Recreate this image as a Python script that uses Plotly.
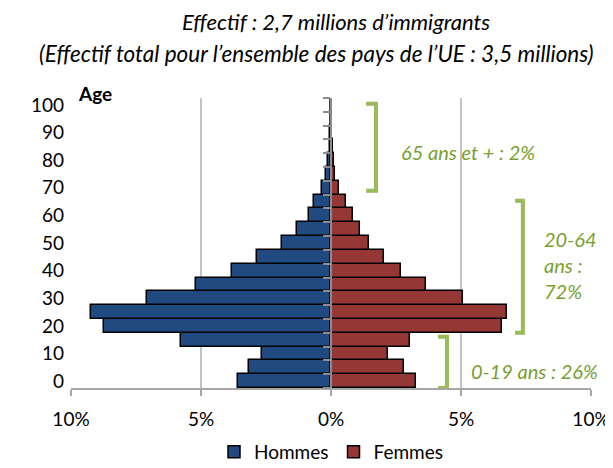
import plotly.graph_objects as go

# Groupes d'âge quinquennaux (0-4, 5-9, ..., 100+), positionnés au début de classe
ages = list(range(0, 105, 5))

# Part de chaque groupe dans l'effectif total (%)
hommes = [3.57, 3.14, 2.67, 5.78, 8.73, 9.24, 7.08, 5.19, 3.82, 2.83, 1.90,
          1.30, 0.83, 0.64, 0.33, 0.21, 0.10, 0.05, 0.02, 0.01, 0.0]
femmes = [3.25, 2.81, 2.18, 3.05, 6.58, 6.77, 5.07, 3.67, 2.68, 2.02, 1.46,
          1.12, 0.85, 0.56, 0.30, 0.17, 0.13, 0.08, 0.03, 0.01, 0.0]

x_ticks = [-10, -5, 0, 5, 10]
x_labels = ['10%', '5%', '0%', '5%', '10%']
y_ticks = list(range(0, 101, 10))

FONT = 'Lato, Calibri, sans-serif'
BLEU = '#214B80'
ROUGE = '#953735'
VERT = '#9BBB59'
VERT_TEXTE = '#77A030'

# la page garde une marge de 8 px autour de la figure
W, H = 605, 460
L, R, T, B = 63, 22, 90, 80
PW, PH = W - L - R, H - T - B

fig = go.Figure()

fig.add_trace(go.Bar(
    y=ages, x=[-v for v in hommes], name='Hommes', orientation='h',
    width=5, marker=dict(color=BLEU, line=dict(color='black', width=1.5)),
    customdata=hommes,
    hovertemplate='Âge %{y}<br>Hommes : %{customdata}%<extra></extra>'
))
fig.add_trace(go.Bar(
    y=ages, x=femmes, name='Femmes', orientation='h',
    width=5, marker=dict(color=ROUGE, line=dict(color='black', width=1.5)),
    hovertemplate='Âge %{y}<br>Femmes : %{x}%<extra></extra>'
))
# trace invisible pour porter l'axe central
fig.add_trace(go.Scatter(x=[0], y=[0], yaxis='y2', mode='markers',
                         marker=dict(opacity=0), showlegend=False,
                         hoverinfo='skip'))

# crochets verts (x en %, y en âge)
crochets = [
    (1.35, 1.73, 68.9, 100.4),
    (7.08, 7.38, 17.5, 65.3),
    (4.12, 4.46, -2.5, 16.1),
]
shapes = []
for x0, x1, y0, y1 in crochets:
    path = f'M {x0},{y1} L {x1},{y1} L {x1},{y0} L {x0},{y0}'
    shapes.append(dict(type='path', path=path, xref='x', yref='y',
                       line=dict(color='rgba(0,0,0,0.12)', width=4)))
for x0, x1, y0, y1 in crochets:
    path = f'M {x0},{y1} L {x1},{y1} L {x1},{y0} L {x0},{y0}'
    shapes.append(dict(type='path', path=path, xref='x', yref='y',
                       line=dict(color=VERT, width=4)))

# titre sur deux lignes (positions en pixels de figure -> papier)
titres = [
    ('Effectif : 2,7 millions d’immigrants', 328, 13, 22),
    ('(Effectif total pour l’ensemble des pays de l’UE : 3,5 millions)', 308, 45, 22.5),
]
ann = []
for txt, px, py, sz in titres:
    ann.append(dict(text=txt, x=(px - L) / PW, y=(H - py - B) / PH,
                    xref='paper', yref='paper', showarrow=False,
                    xanchor='center', yanchor='middle',
                    font=dict(family=FONT, size=sz, color='black', style='italic')))

ann.append(dict(text='<b>Age</b>', x=0.01, y=1.015, xref='paper', yref='paper',
                showarrow=False, xanchor='left', yanchor='middle',
                font=dict(family=FONT, size=19, color='black')))
ann.append(dict(text='65 ans et + : 2%', x=2.6, y=83, xref='x', yref='y',
                showarrow=False, xanchor='left', yanchor='middle',
                font=dict(family=FONT, size=20, color=VERT_TEXTE, style='italic')))
ann.append(dict(text='20-64<br>ans :<br>72%', x=8.1, y=42, xref='x', yref='y',
                showarrow=False, xanchor='left', yanchor='middle', align='left',
                font=dict(family=FONT, size=20, color=VERT_TEXTE, style='italic')))
ann.append(dict(text='0-19 ans : 26%', x=5.3, y=3.5, xref='x', yref='y',
                showarrow=False, xanchor='left', yanchor='middle',
                font=dict(family=FONT, size=20, color=VERT_TEXTE, style='italic')))

fig.update_layout(
    width=W, height=H,
    margin=dict(l=L, r=R, t=T, b=B, autoexpand=False),
    plot_bgcolor='white', paper_bgcolor='white',
    barmode='overlay', bargap=0,
    font=dict(family=FONT, size=19, color='black'),
    xaxis=dict(range=[-10, 10], tickvals=x_ticks, ticktext=x_labels,
               showgrid=True, gridcolor='#C4C4C4', gridwidth=1.5,
               zeroline=False, showline=True, linecolor='#A6A6A6', linewidth=1.5,
               ticks='outside', ticklen=6, tickcolor='#A6A6A6', tickwidth=1.5,
               ticklabelstandoff=7, automargin=False, fixedrange=True),
    yaxis=dict(range=[-2.5, 102.5], tickvals=y_ticks, showgrid=False,
               zeroline=False, showline=False, ticks='', ticklabelstandoff=6,
               automargin=False, fixedrange=True),
    yaxis2=dict(range=[-2.5, 102.5], overlaying='y', anchor='free', position=0.5,
                side='left', showgrid=False, zeroline=False, showticklabels=False,
                showline=True, linecolor='#8C8C8C', linewidth=2,
                tickvals=[a - 2.5 for a in ages] + [102.5],
                ticks='outside', ticklen=7, tickcolor='#8C8C8C', tickwidth=1.5,
                automargin=False, fixedrange=True),
    legend=dict(orientation='h', x=0.5, xanchor='center',
                y=(H - B - 444) / PH, yanchor='middle',
                font=dict(family=FONT, size=19), traceorder='normal',
                itemwidth=30),
    shapes=shapes,
    annotations=ann,
)

fig.write_html('out.html')
